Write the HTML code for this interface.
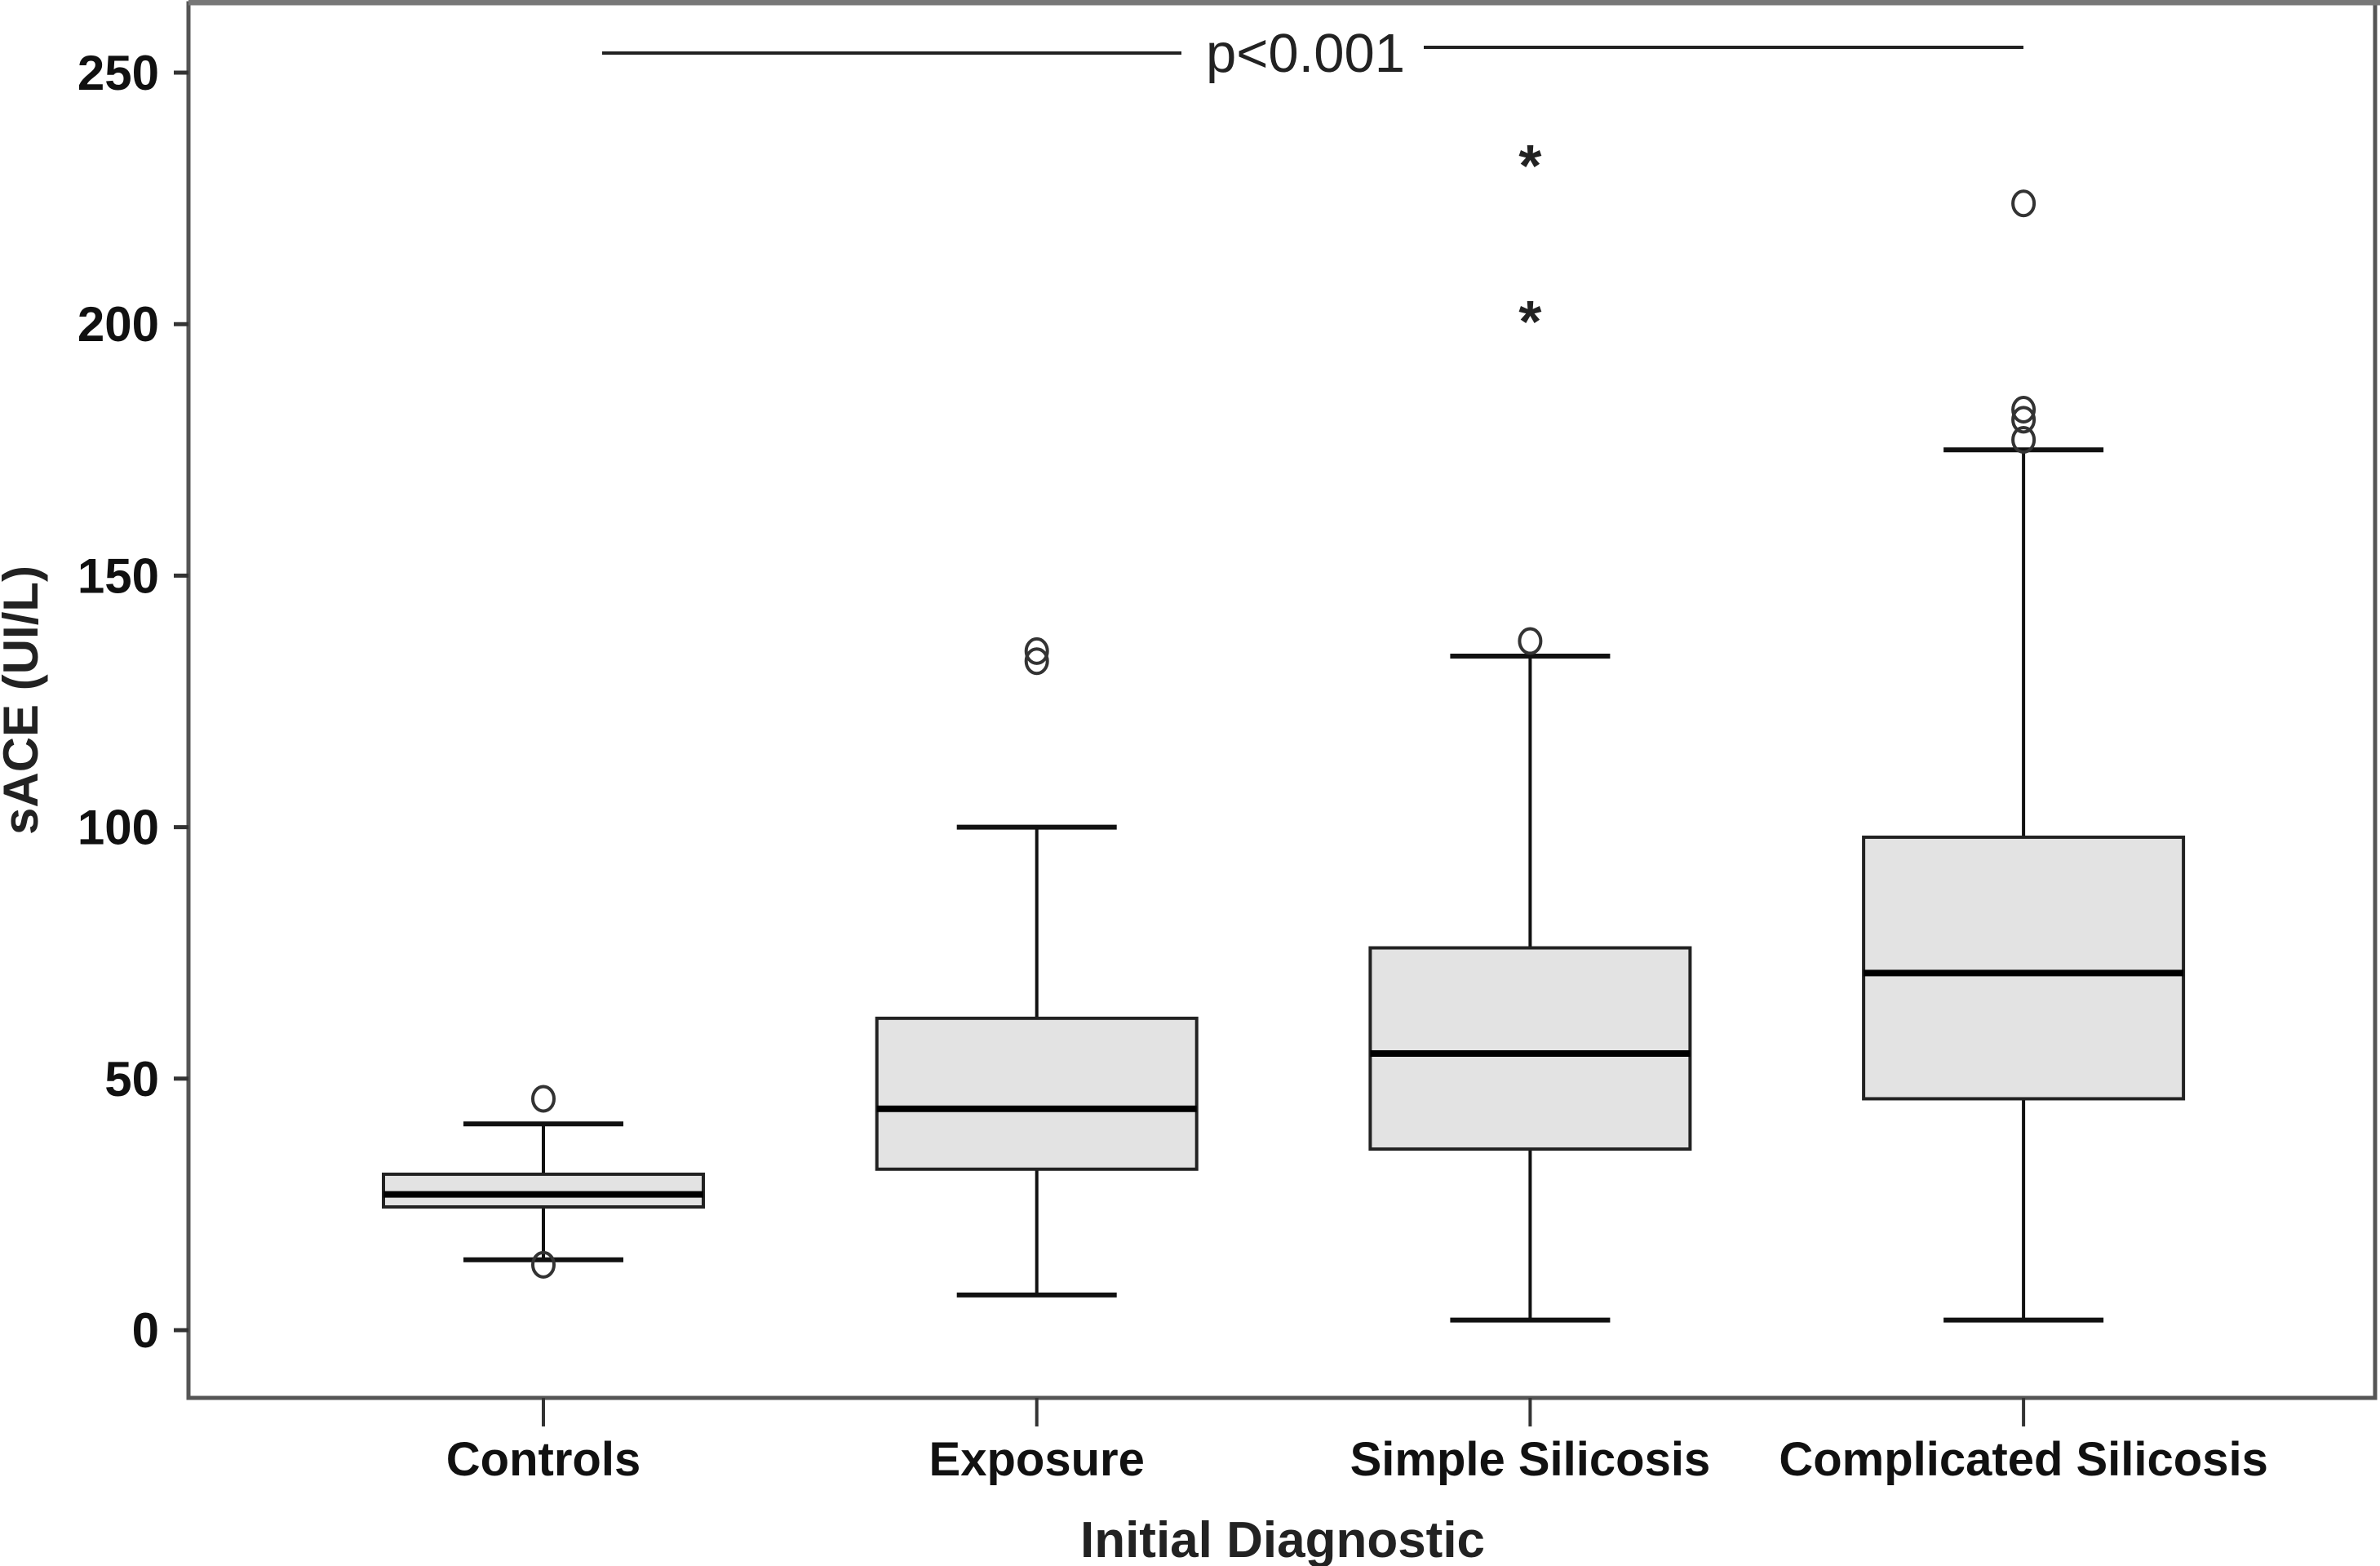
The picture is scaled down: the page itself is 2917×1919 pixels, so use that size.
<!DOCTYPE html>
<html><head><meta charset="utf-8"><style>
html,body{margin:0;padding:0;background:#fff;}
svg{display:block;}
text{font-family:"Liberation Sans",Arial,sans-serif;}
</style></head>
<body>
<svg id="chart" width="2917" height="1919" viewBox="0 0 2917 1919" xmlns="http://www.w3.org/2000/svg">
<rect x="0" y="0" width="2917" height="1919" fill="#fff"/>
<g id="plot"></g>
</svg>
<script>
const categories = ["Controls","Exposure","Simple Silicosis","Complicated Silicosis"];
const whiskerLow = [14, 7, 2, 2];
const q1 = [24.5, 32, 36, 46];
const medians = [27, 44, 55, 71];
const q3 = [31, 62, 76, 98];
const whiskerHigh = [41, 100, 134, 175];
const outliers = [[46, 13], [133, 135], [137], [177, 181, 183, 224]];
const extremes = [[], [], [233, 202], []];
const yTicks = [0, 50, 100, 150, 200, 250];

const NS = "http://www.w3.org/2000/svg";
const g = document.getElementById("plot");
const L = 231, R = 2911, T = 4, B = 1713;
const y0px = 1630, perUnit = (1630 - 89) / 250;
function yScale(v){ return y0px - v * perUnit; }
const catStart = 666, catStep = 604.7;
function xScale(i){ return catStart + i * catStep; }
function el(tag, attrs){
  const e = document.createElementNS(NS, tag);
  for (const k in attrs) e.setAttribute(k, attrs[k]);
  g.appendChild(e);
  return e;
}

const frame = el("rect", {x:L, y:T, width:R-L, height:B-T, fill:"none", stroke:"#555", "stroke-width":5});


const topBand = el("line", {x1:L, y1:3, x2:2917, y2:3, stroke:"#777", "stroke-width":7});



yTicks.forEach(v => {
  const y = yScale(v);
  const t = el("line", {x1:L-18, y1:y, x2:L, y2:y, stroke:"#333", "stroke-width":5});
  
  
  const lb = el("text", {x:L-36, y:y+21, "text-anchor":"end", "font-size":60, "font-weight":"bold", fill:"#111"});
  lb.textContent = v;
  
  
});

const boxHalf = 196, capHalf = 98;
categories.forEach((c, i) => {
  const x = xScale(i);
  const tk = el("line", {x1:x, y1:B, x2:x, y2:B+35, stroke:"#333", "stroke-width":4});
  
  
  const lb = el("text", {x:x, y:1808, "text-anchor":"middle", "font-size":58, "font-weight":"bold", fill:"#111"});
  lb.textContent = c;
  
  

  const w = el("line", {x1:x, y1:yScale(whiskerLow[i]), x2:x, y2:yScale(whiskerHigh[i]), stroke:"#111", "stroke-width":4});
  
  
  [whiskerLow[i], whiskerHigh[i]].forEach(v => {
    const cap = el("line", {x1:x-capHalf, y1:yScale(v), x2:x+capHalf, y2:yScale(v), stroke:"#111", "stroke-width":6});
    
    
  });
  const box = el("rect", {x:x-boxHalf, y:yScale(q3[i]), width:boxHalf*2, height:yScale(q1[i])-yScale(q3[i]), fill:"#e3e3e3", stroke:"#222", "stroke-width":4});
  
  
  const med = el("line", {x1:x-boxHalf, y1:yScale(medians[i]), x2:x+boxHalf, y2:yScale(medians[i]), stroke:"#000", "stroke-width":8});
  
  
  outliers[i].forEach(v => {
    const o = el("ellipse", {cx:x, cy:yScale(v), rx:13, ry:15, fill:"none", stroke:"#333", "stroke-width":4});
    
    
  });
  extremes[i].forEach(v => {
    const s = el("text", {x:x, y:yScale(v)+34, "text-anchor":"middle", "font-size":72, "font-weight":"bold", fill:"#222"});
    s.textContent = "*";
    
    
  });
});

const s1 = el("line", {x1:738, y1:65, x2:1448, y2:65, stroke:"#222", "stroke-width":4});


const s2 = el("line", {x1:1745, y1:58, x2:2480, y2:58, stroke:"#222", "stroke-width":4});


const pt = el("text", {x:1600, y:88, "text-anchor":"middle", "font-size":67, fill:"#222"});
pt.textContent = "p<0.001";



const xt = el("text", {x:1572, y:1908, "text-anchor":"middle", "font-size":62, "font-weight":"bold", fill:"#222"});
xt.textContent = "Initial Diagnostic";


const yt = el("text", {x:0, y:0, "text-anchor":"middle", "font-size":60, "font-weight":"bold", fill:"#222", transform:"translate(46,858) rotate(-90)"});
yt.textContent = "sACE (UI/L)";


</script>
</body></html>
